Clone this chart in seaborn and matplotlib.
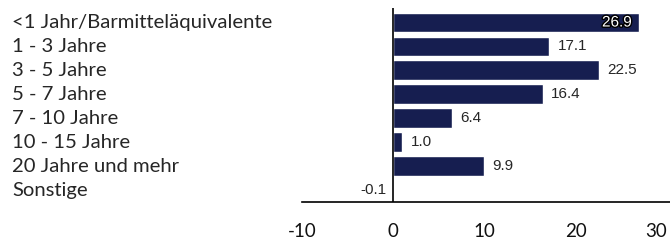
import matplotlib
matplotlib.use("Agg")
import matplotlib.pyplot as plt
import matplotlib.patheffects as pe
import matplotlib.transforms as mtransforms
import seaborn as sns
import pandas as pd

# data
categories = ["<1 Jahr/Barmitteläquivalente", "1 - 3 Jahre", "3 - 5 Jahre", "5 - 7 Jahre",
              "7 - 10 Jahre", "10 - 15 Jahre", "20 Jahre und mehr", "Sonstige"]
values = [26.9, 17.1, 22.5, 16.4, 6.4, 1.0, 9.9, -0.1]
xticks = [-10, 0, 10, 20, 30]

df = pd.DataFrame({"cat": categories, "val": values})

sns.set_style("white")
plt.rcParams["font.family"] = ["Lato", "DejaVu Sans"]

fig = plt.figure(figsize=(6.7, 2.4), dpi=100)
ax = fig.add_axes([0.4507, 0.158, 0.5493, 0.808])

bar_color = "#161e50"
sns.barplot(data=df, x="val", y="cat", orient="h", color=bar_color, width=0.83,
            saturation=1, ax=ax)

ax.set_xlim(-10, 30.3)
ax.set_ylim(7.5, -0.6)
ax.axvline(0, color="black", lw=1.2)
for s in ["top", "right", "left"]:
    ax.spines[s].set_visible(False)
ax.spines["bottom"].set_color("black")
ax.spines["bottom"].set_linewidth(1.2)

ax.set_xticks(xticks)
ax.set_xticklabels([str(t) for t in xticks], fontsize=13.5, color="#111111")
ax.get_xticklabels()[-1].set_horizontalalignment("right")
ax.tick_params(axis="x", length=0, pad=15)
ax.set_yticks([])
ax.set_xlabel("")
ax.set_ylabel("")

# category names at the left edge of the figure
trans = mtransforms.blended_transform_factory(fig.transFigure, ax.transData)
for i, c in enumerate(categories):
    ax.text(0.018, i, c, transform=trans, ha="left", va="center", fontsize=14.6)

# value labels
for i, v in enumerate(values):
    if i == 0:
        ax.text(v - 0.8, i, f"{v:.1f}", ha="right", va="center", fontsize=11,
                color="white", family="Liberation Sans",
                path_effects=[pe.withStroke(linewidth=2, foreground="black")])
    elif v < 0:
        ax.text(v - 0.6, i, f"{v:.1f}", ha="right", va="center", fontsize=11,
                family="Liberation Sans")
    else:
        ax.text(v + 0.9, i, f"{v:.1f}", ha="left", va="center", fontsize=11,
                family="Liberation Sans")

fig.savefig("out.png", dpi=100)
